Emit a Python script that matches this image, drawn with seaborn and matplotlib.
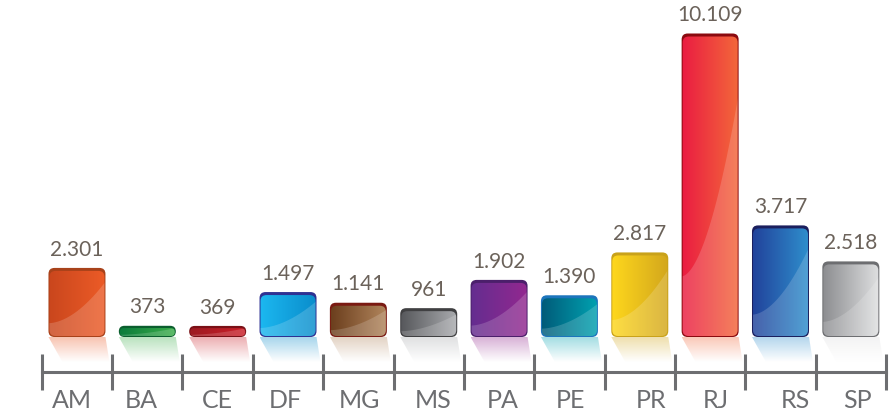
import matplotlib
matplotlib.use("Agg")
import matplotlib.pyplot as plt
import matplotlib.transforms as mtransforms
import numpy as np
import pandas as pd
import seaborn as sns
from matplotlib.colors import LinearSegmentedColormap, to_rgb
from matplotlib.patches import FancyBboxPatch, Polygon

# data
states = ["AM", "BA", "CE", "DF", "MG", "MS", "PA", "PE", "PR", "RJ", "RS", "SP"]
values = [2301, 373, 369, 1497, 1141, 961, 1902, 1390, 2817, 10109, 3717, 2518]

# glossy bar colours: left side, right side, top rim
left_colors = ["#c9461d", "#0a7a3b", "#9c1a21", "#1cb8f0", "#6a3d1c", "#55565a",
               "#642d90", "#005a78", "#ffd81c", "#ea1c42", "#21419a", "#8b8c8f"]
right_colors = ["#ec5b27", "#3daf4b", "#cc2029", "#0a8ccb", "#b2865d", "#a9abae",
                "#93288f", "#00a2b1", "#d3a71d", "#f3683a", "#2f8fcd", "#dedfe0"]
rim_colors = ["#a8421a", "#0b5e2e", "#7a1016", "#2e3192", "#7a1a12", "#404042",
              "#4b1f6b", "#1c75bc", "#c9a21a", "#8b0a0f", "#1b1f5e", "#6d6e71"]
# the category labels sit a little off-centre in the original (pixels)
label_shift_px = [-5, -6, 0, -3, 1, 4, 4, 1, 11, 6, 15, 7]

sns.set_theme(style="white")
plt.rcParams["font.family"] = ["Lato", "DejaVu Sans"]

fig = plt.figure(figsize=(8.96, 4.2), dpi=100)
ax = fig.add_axes([0, 0, 1, 1])
df = pd.DataFrame({"state": states, "value": values})
sns.barplot(data=df, x="state", y="value", hue="state", palette=left_colors,
            width=0.81, saturation=1, legend=False, ax=ax)

px_per_val = 303.5 / 10109
xlim = (-1.094, 11.642)
ylim = (-83 / px_per_val, 337 / px_per_val)
dx = (xlim[1] - xlim[0]) / 896   # data units per pixel
dy = 1 / px_per_val

for i, cont in enumerate(ax.containers):
    bar = cont[0]
    bar.set_alpha(0)
    x0, w, h = bar.get_x(), bar.get_width(), bar.get_height()
    x1 = x0 + w
    h_px = h / dy
    r = min(6, h_px / 2)
    aspect = dy / dx

    # dark rim underneath
    rim = FancyBboxPatch((x0, 0), w, h, boxstyle=f"round,pad=0,rounding_size={r * dx}",
                         mutation_aspect=aspect, fc=rim_colors[i], ec="none", zorder=3)
    ax.add_patch(rim)

    # inner body with horizontal gradient
    top_cut = min(3, h_px * 0.2)
    inner = FancyBboxPatch((x0 + 1 * dx, 1 * dy), w - 2 * dx, h - (top_cut + 1) * dy,
                           boxstyle=f"round,pad=0,rounding_size={min(r, (h_px - top_cut - 1) / 2) * dx}",
                           mutation_aspect=aspect, fc="none", ec="none", transform=ax.transData)
    cmap = LinearSegmentedColormap.from_list(f"g{i}", [left_colors[i], right_colors[i]])
    im = ax.imshow(np.linspace(0, 1, 256).reshape(1, -1), cmap=cmap, aspect="auto",
                   extent=[x0, x1, 0, h], zorder=4, interpolation="bilinear")
    im.set_clip_path(inner)

    # glossy lighter lower part
    t = np.linspace(0, 1, 40)
    gx = x0 + t * w
    gy = h * (0.2 + 0.6 * t ** 1.8)
    pts = [(x0, 0)] + list(zip(gx, gy)) + [(x1, 0)]
    gloss = Polygon(pts, closed=True, fc="white", ec="none", alpha=0.17, zorder=5)
    ax.add_patch(gloss)
    gloss.set_clip_path(inner)

    # reflection below the bar
    depth = 25
    refl = Polygon([(x0, 0), (x1, 0), (x1 + 4 * dx, -depth * dy), (x0 + 14 * dx, -depth * dy)],
                   closed=True, transform=ax.transData)
    base = np.array(to_rgb(right_colors[i]))
    tint = base * 0.6 + 0.4
    grad = np.zeros((64, 1, 4))
    grad[:, 0, :3] = tint
    grad[:, 0, 3] = np.linspace(0.6, 0, 64)
    rim_im = ax.imshow(grad, aspect="auto", extent=[x0, x1 + 14 * dx, -depth * dy, 0],
                       zorder=2, interpolation="bilinear")
    rim_im.set_clip_path(refl)

    label = f"{values[i]:,}".replace(",", ".")
    ax.bar_label(cont, labels=[label], padding=6, fontsize=15, color="#6b625a")

ax.set_xlim(*xlim)
ax.set_ylim(*ylim)
ax.set_xlabel("")
ax.set_ylabel("")
ax.set_yticks([])

axis_grey = "#6d6e71"
for side in ["top", "left", "right"]:
    ax.spines[side].set_visible(False)
ax.spines["bottom"].set_position(("axes", 48 / 420))
ax.spines["bottom"].set_bounds(-0.5, 11.5)
ax.spines["bottom"].set_color(axis_grey)
ax.spines["bottom"].set_linewidth(2.2)

ax.set_xticks(range(len(states)))
ax.set_xticklabels(states)
ax.set_xticks(np.arange(-0.5, len(states), 1), minor=True)
ax.tick_params(axis="x", which="major", bottom=True, length=0, pad=12,
               labelsize=18, labelcolor=axis_grey)
ax.tick_params(axis="x", which="minor", bottom=True, direction="inout",
               length=26.6, width=2.2, color=axis_grey)

for lab, shift in zip(ax.get_xticklabels(), label_shift_px):
    offset = mtransforms.ScaledTranslation(shift / 100, 0, fig.dpi_scale_trans)
    lab.set_transform(lab.get_transform() + offset)

fig.savefig("out.png", dpi=100, facecolor="white")
